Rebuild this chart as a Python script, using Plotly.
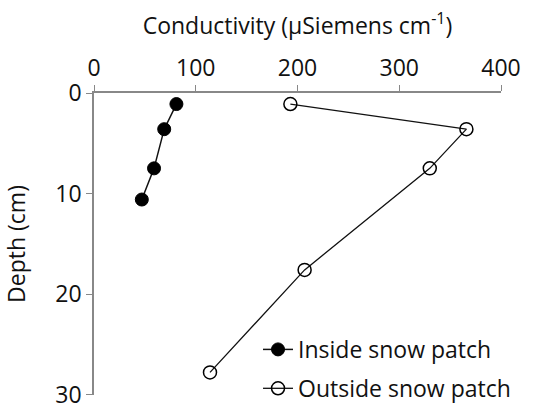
import plotly.graph_objects as go

depth_inside = [1.1, 3.6, 7.5, 10.6]
cond_inside = [81, 69, 59, 47]
depth_outside = [1.1, 3.6, 7.5, 17.6, 27.8]
cond_outside = [193, 366, 330, 207, 114]

x_ticks = [0, 100, 200, 300, 400]
y_ticks = [0, 10, 20, 30]

FONT = "Open Sans"
FS = 23

fig = go.Figure()
fig.add_trace(go.Scatter(
    x=cond_inside, y=depth_inside, mode="lines+markers", name="Inside snow patch",
    legendgroup="a",
    line=dict(color="#111111", width=1.5),
    marker=dict(symbol="circle", size=13, color="#000000", line=dict(color="#000000", width=1)),
))
fig.add_trace(go.Scatter(
    x=cond_outside, y=depth_outside, mode="lines+markers", name="Outside snow patch",
    legendgroup="b",
    line=dict(color="#111111", width=1.3),
    marker=dict(symbol="circle-open", size=13, color="#000000", line=dict(width=1.5)),
))

fig.update_layout(
    width=544, height=404,
    margin=dict(l=94, r=43, t=93, b=9, autoexpand=False),
    paper_bgcolor="white", plot_bgcolor="white",
    font=dict(family=FONT, size=FS, color="#111111"),
    showlegend=True,
    legend=dict(x=0.403, y=0.222, xanchor="left", yanchor="top",
                bgcolor="rgba(0,0,0,0)", font=dict(size=FS, family=FONT),
                itemwidth=30, traceorder="grouped", tracegroupgap=6),
    xaxis=dict(
        side="top", range=[0, 400], tickvals=x_ticks, ticktext=[str(v) for v in x_ticks],
        showgrid=False, zeroline=False, showline=True, linecolor="#888888", linewidth=1.5,
        ticks="outside", ticklen=6, tickcolor="#888888", tickwidth=1.2, automargin=False,
        title=dict(text="Conductivity (µSiemens cm<sup>-1</sup>)", font=dict(size=FS, family=FONT), standoff=10),
        tickfont=dict(size=FS, family=FONT),
    ),
    yaxis=dict(
        range=[30.05, 0], tickvals=y_ticks, ticktext=[str(v) for v in y_ticks],
        showgrid=False, zeroline=False, showline=True, linecolor="#888888", linewidth=1.5,
        ticks="outside", ticklen=6, tickcolor="#888888", tickwidth=1.2, automargin=False,
        ticklabeloverflow="allow",
        title=dict(text="Depth (cm)", font=dict(size=FS, family=FONT), standoff=24),
        tickfont=dict(size=FS, family=FONT),
    ),
)

fig.write_html("out.html")
